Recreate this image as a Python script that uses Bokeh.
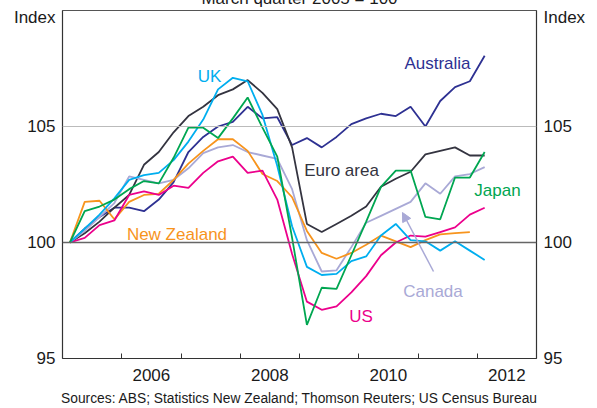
from bokeh.plotting import figure
from bokeh.models import (Range1d, FixedTicker, LinearAxis, Span, Label, Arrow, NormalHead, Title)
from bokeh.embed import file_html
from bokeh.resources import INLINE

# Quarterly data, March quarter 2005 = 100 (2005Q1 .. 2012Q1)
start_year = 2005
australia = [100, 100.6, 101.1, 101.5, 101.5, 101.35, 101.85, 102.6, 103.9, 104.55, 105.0, 105.2, 105.85, 105.35, 105.4,
             104.2, 104.5, 104.1, 104.55, 105.1, 105.35, 105.55, 105.45, 105.85, 105.0, 106.1, 106.7, 106.95, 108.05]
euro_area = [100, 100.4, 100.9, 101.5, 102.05, 103.35, 103.9, 104.75, 105.45, 105.85, 106.35, 106.6, 107.0, 106.45, 105.75,
             104.1, 100.8, 100.45, 100.8, 101.15, 101.55, 102.4, 102.75, 103.05, 103.8, 103.95, 104.1, 103.75, 103.75]
uk = [100, 100.6, 101.2, 101.9, 102.7, 102.9, 103.0, 103.55, 104.35, 105.3, 106.6, 107.1, 106.95, 105.5, 103.3,
      100.7, 98.95, 98.6, 98.65, 99.2, 99.4, 100.3, 100.8, 100.1, 100.05, 99.65, 100.05, 99.65, 99.25]
japan = [100, 101.35, 101.55, 101.85, 102.3, 102.65, 102.55, 103.65, 104.95, 104.95, 104.5, 105.35, 106.25, 104.95, 103.7,
         100.2, 96.45, 98.05, 98.0, 99.45, 100.9, 102.4, 103.1, 103.1, 101.1, 101.0, 102.8, 102.8, 103.9]
canada = [100, 100.5, 101.1, 101.7, 102.85, 102.7, 102.55, 102.7, 103.2, 103.85, 104.1, 104.2, 103.9, 103.75, 103.6,
          102.3, 100.1, 98.75, 98.8, 99.8, 100.85, 101.15, 101.45, 101.75, 102.55, 102.1, 102.85, 102.95, 103.25]
new_zealand = [100, 101.75, 101.8, 101.0, 101.75, 102.05, 102.1, 102.7, 103.4, 103.95, 104.45, 104.45, 103.95, 102.95,
               102.65, 101.95, 100.5, 99.55, 99.3, 99.55, 99.9, 100.3, 100.05, 99.8, 100.1, 100.35, 100.4, 100.45]
us = [100, 100.2, 100.75, 100.95, 102.05, 102.2, 102.05, 102.45, 102.35, 103.0, 103.5, 103.7, 103.0, 103.1, 101.85,
      99.5, 97.45, 97.1, 97.25, 97.85, 98.55, 99.45, 100.0, 100.3, 100.25, 100.45, 100.65, 101.2, 101.5]

year_ticks = [2006, 2007, 2008, 2009, 2010, 2011, 2012]
year_label_pos = [2006.5, 2008.5, 2010.5, 2012.5]
year_labels = ["2006", "2008", "2010", "2012"]
y_ticks = [95, 100, 105, 109.7]
y_labels = ["95", "100", "105", "Index"]


def quarter_x(n):
    # middle of each quarter, starting March quarter 2005
    return [start_year + 0.125 + 0.25 * i for i in range(n)]


FONT = "Liberation Sans"
TXT = "#1a1a1a"

p = figure(frame_width=474, frame_height=348, output_backend="svg", toolbar_location=None,
           x_range=Range1d(2005, 2013), y_range=Range1d(95, 110),
           min_border_left=54, min_border_right=53, min_border_top=30, min_border_bottom=50,
           x_axis_location=None, y_axis_location=None)
p.margin = (-20, 0, -14, 8)
p.title.text = "March quarter 2005 = 100"
p.title.align = "center"
p.title.text_font = FONT
p.title.text_font_size = "17px"
p.title.text_font_style = "normal"
p.title.text_color = TXT
p.title.standoff = 6
p.background_fill_color = "white"
p.border_fill_color = "white"
p.outline_line_color = "#555555"
p.outline_line_width = 1
p.xgrid.visible = False
p.ygrid.visible = False

# grid lines
p.add_layout(Span(location=105, dimension="width", line_color="#BBBBBB", line_width=1))
p.add_layout(Span(location=100, dimension="width", line_color="#666666", line_width=1.3))

# axes
def style_y(ax):
    ax.ticker = FixedTicker(ticks=y_ticks)
    ax.major_label_overrides = {t: l for t, l in zip(y_ticks, y_labels)}
    ax.major_tick_in = 0
    ax.major_tick_out = 0
    ax.minor_tick_in = 0
    ax.minor_tick_out = 0
    ax.axis_line_color = "#333333"
    ax.axis_line_width = 1.2
    ax.major_label_text_font = FONT
    ax.major_label_text_font_size = "17px"
    ax.major_label_text_color = TXT
    ax.major_label_standoff = 7

yl = LinearAxis()
style_y(yl)
p.add_layout(yl, "left")
yr = LinearAxis()
style_y(yr)
p.add_layout(yr, "right")

xa = LinearAxis()
xa.ticker = FixedTicker(ticks=year_label_pos, minor_ticks=year_ticks)
xa.major_label_overrides = {t: l for t, l in zip(year_label_pos, year_labels)}
xa.major_tick_in = 0
xa.major_tick_out = 0
xa.minor_tick_in = 5
xa.minor_tick_out = 0
xa.minor_tick_line_color = "#333333"
xa.axis_line_color = "#333333"
xa.axis_line_width = 1.2
xa.major_label_text_font = FONT
xa.major_label_text_font_size = "17px"
xa.major_label_text_color = TXT
xa.major_label_standoff = 10
p.add_layout(xa, "below")

sources = Title(text="Sources: ABS; Statistics New Zealand; Thomson Reuters; US Census Bureau",
                align="center", text_font=FONT, text_font_size="13.8px", text_font_style="normal",
                text_color=TXT, standoff=10)
p.add_layout(sources, "below")

series = [
    (australia, "#2E3192"),
    (euro_area, "#343440"),
    (canada, "#A9A9D6"),
    (new_zealand, "#F7941D"),
    (us, "#EC008C"),
    (uk, "#00AEEF"),
    (japan, "#00A651"),
]
for vals, col in series:
    p.line(quarter_x(len(vals)), vals, line_color=col, line_width=1.8)

labels = [
    ("UK", 2007.481, 107.155, "#00AEEF"),
    ("Australia", 2011.329, 107.716, "#2E3192"),
    ("Euro area", 2009.709, 103.103, "#343440"),
    ("Japan", 2012.342, 102.241, "#00A651"),
    ("New Zealand", 2006.932, 100.345, "#F7941D"),
    ("Canada", 2011.253, 97.888, "#A9A9D6"),
    ("US", 2010.038, 96.81, "#EC008C"),
]
for txt, lx, ly, col in labels:
    p.add_layout(Label(x=lx, y=ly, text=txt, text_color=col, text_font=FONT, text_font_size="17px",
                       text_align="center", text_baseline="alphabetic"))

p.add_layout(Arrow(x_start=2011.262, y_start=98.75, x_end=2010.738, y_end=101.293,
                   line_color="#A9A9D6", line_width=1.5,
                   end=NormalHead(size=9, fill_color="#A9A9D6", line_color="#A9A9D6")))

open("out.html", "w").write(file_html(p, INLINE))
